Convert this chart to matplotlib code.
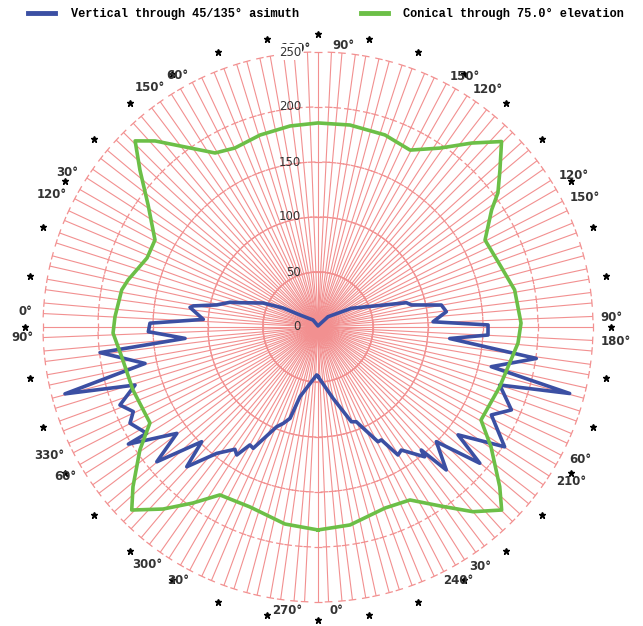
import numpy as np
import matplotlib
matplotlib.use("Agg")
from matplotlib import pyplot as plt
from matplotlib.collections import LineCollection
from matplotlib.lines import Line2D

# angles in compass degrees (0 = up, clockwise), values in radial units
vert_ang = [-180, -178.4, -165.5, -163, -160.2, -157.5, -151.9, -150, -147.6, -145.8,
            -141.3, -136.8, -134.6, -129.9, -127, -121.7, -121.8, -117.1, -114.6, -111.5,
            -107.6, -104.8, -101.9, -96.7, -94.9, -91.6, -88.7, -86.2, -83.6, -81.3,
            -80.4, -77.7, -74.3, -72.7, -66.4, -61.5, -56.3, -35.5, 0,
            44.2, 60.7, 71.7, 74.6, 76.7, 79.9, 83.2, 87.4, 89.3, 92.7,
            95.0, 98.2, 102.9, 104.8, 107.7, 113.2, 116.9, 122.7, 127.6, 130.1,
            134.1, 138.1, 140, 140.6, 145.9, 148, 150.7, 152.4, 158, 160.6, 168.1, 180]
vert_val = [45, 43.6, 65.4, 86.8, 93.1, 98.1, 125, 123.8, 137.8, 134.4,
            147.2, 174.3, 148.5, 191, 160.7, 202.6, 183.3, 192, 184.7, 193.5,
            174.5, 237.9, 160.7, 199.5, 121.3, 154.3, 152.8, 104.5, 111, 117.7,
            115, 94.2, 83.1, 74.3, 54.5, 36.2, 19.7, 7.8, 1,
            13, 34.7, 63.8, 83.3, 87.2, 113.9, 117.5, 104.7, 154.6, 154.7,
            120.2, 200.5, 161.6, 236.6, 173.4, 191.3, 176.7, 201.6, 160.7, 192.3,
            149.8, 174.6, 146, 152.7, 135.1, 137.2, 117.7, 117.7, 92.9, 91.3, 66.3, 45]

con_ang = [-180, -170.5, -159.3, -149.7, -144.6, -139.6, -134.5, -130.8, -124.6, -119.7,
           -108.8, -98.6, -91.7, -87.1, -79.3, -76.1, -68.0, -61.9, -54.3, -48.6,
           -44.5, -41.2, -37.3, -30.6, -24.9, -16.8, -7.9, 0,
           9.0, 19.2, 27.5, 34.3, 39.9, 44.7, 49.2, 53.3, 56.0, 62.5,
           71.2, 79.3, 88.9, 94.6, 101.9, 108.2, 119.7, 124.7, 131.3, 134.9,
           140, 145.7, 152, 159.7, 170.8, 180]
con_val = [184.5, 181.6, 174.9, 176.8, 196.3, 217.3, 237.4, 222.2, 196.7, 175.9,
           177.7, 180.5, 186.4, 184.8, 181.6, 177.9, 167.6, 168, 190.2, 215.8,
           237.2, 224.8, 206.9, 183.8, 179.4, 182.3, 184.5, 185.5,
           185.9, 184.9, 181.3, 196.9, 218, 237.2, 218.5, 204, 190.4, 171.2,
           174.8, 181.9, 184.6, 182.4, 176.5, 173.9, 170.6, 191.3, 219.9, 235.7,
           219.2, 196.9, 178.1, 175.5, 182.3, 184.5]

ring_vals = [0, 50, 100, 150, 200, 250]
star_ang = list(range(0, 360, 10))

lab_text = ["180°", "90°", "60°", "150°", "30°", "120°", "0°", "90°",
            "330°", "60°", "300°", "30°", "270°", "0°", "240°", "30°",
            "210°", "60°", "180°", "90°", "150°", "120°", "120°", "150°"]
lab_ang = [-4.6, 5.1, -29.2, -35, -58.4, -63.6, -87, -92,
           -115.6, -120.7, -144.3, -151, -173.7, 176.2, 151, 145.9,
           121.4, 116.9, 92.8, 88.2, 64.1, 59.4, 35.6, 30.4]
lab_rad = [254, 257, 262, 266, 268, 270, 266, 269,
           271, 267, 266, 263, 259, 258, 263, 263,
           270, 267, 271, 267, 270, 270, 265, 264]

blue = '#3b4fa3'
green = '#6cbf47'
pink = '#f29090'
px = 1.1  # pixels per radial unit

fig = plt.figure(figsize=(6.43, 6.26), dpi=100)
ax = fig.add_axes([19/643, 0, 598/643, 598/626], projection='polar')
ax.set_theta_zero_location('N')
ax.set_theta_direction(-1)
ax.set_ylim(0, 299/px)
ax.grid(False)
ax.set_xticks([])
ax.set_yticks([])
for s in ax.spines.values():
    s.set_visible(False)

# spokes, in pairs every 5 degrees
spokes = np.radians(np.concatenate([np.arange(0, 360, 5), np.arange(0, 360, 5) - 2.2]))
segs = [[(t, 0), (t, 250)] for t in spokes]
ax.add_collection(LineCollection(segs, colors=pink, linewidths=0.8, zorder=1))

# tick marks on every spoke at each ring
h = 3.8/px
ticks = []
for t in spokes:
    for r in ring_vals[1:]:
        dt = np.arctan(h/r)
        rr = np.hypot(r, h)
        ticks.append([(t - dt, rr), (t + dt, rr)])
ax.add_collection(LineCollection(ticks, colors=pink, linewidths=0.9, zorder=1))

ax.plot(np.radians(con_ang), con_val, color=green, lw=2.6, zorder=4, solid_joinstyle='round')
ax.plot(np.radians(vert_ang), vert_val, color=blue, lw=2.6, zorder=3, solid_joinstyle='round')

ax.plot(np.radians(star_ang), [266]*len(star_ang), ls='none', marker='*', ms=5,
        color='k', clip_on=False)

for txt, a, r in zip(lab_text, lab_ang, lab_rad):
    ax.text(np.radians(a), r, txt, ha='center', va='center', fontsize=8.5,
            color='#333333', fontweight='bold')

for v in ring_vals:
    bb = dict(facecolor='white', edgecolor='none', pad=1.0) if v == 250 else None
    ax.annotate(str(v), xy=(0, v), xytext=(-12.2, 0), textcoords='offset points',
                ha='right', va='center', fontsize=8.5, color='#333333', bbox=bb, zorder=6)

handles = [Line2D([], [], color=blue, lw=3.5), Line2D([], [], color=green, lw=3.5)]
fig.legend(handles, ['Vertical through 45/135° asimuth', 'Conical through 75.0° elevation'],
           loc='upper left', bbox_to_anchor=(28/643, 1 - 8/626), ncol=2, frameon=False,
           borderpad=0, borderaxespad=0, handlelength=2.3, handletextpad=1.3,
           columnspacing=5.2, prop={'family': 'Liberation Mono', 'size': 8.55, 'weight': 'bold'})

plt.savefig("out.png", dpi=100)
